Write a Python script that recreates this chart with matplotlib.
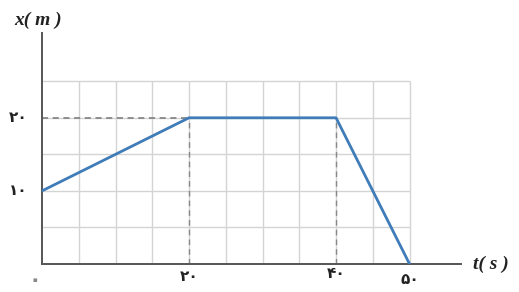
import numpy as np
import matplotlib.pyplot as plt

# position-time data
t = [0, 20, 40, 50]
x = [10, 20, 20, 0]

grid_t = [5, 10, 15, 20, 25, 30, 35, 40, 45, 50]
grid_x = [5, 10, 15, 20, 25]

# tick labels in Persian digits
xtick_pos = [20, 40, 50]
xtick_lbl = ["۲۰", "۴۰", "۵۰"]
xtick_off = [-1.7, -1.3, -2.1]
ytick_pos = [10, 20]
ytick_lbl = ["۱۰", "۲۰"]

fig = plt.figure(figsize=(5.19, 2.92), dpi=100)
W, H = 519, 292
x0, x1 = 42, 461
y0, y1 = 264, 33
ax = fig.add_axes([x0 / W, 1 - y0 / H, (x1 - x0) / W, (y0 - y1) / H])
ax.set_xlim(0, 57)
ax.set_ylim(0, 31.6)

# light grid
ax.vlines(grid_t, 0, 25, color="#d4d4d4", lw=1.0, zorder=1)
ax.hlines(grid_x, 0, 50, color="#d4d4d4", lw=1.0, zorder=1)

# dashed guide lines
ax.hlines(20, 0, 20, color="#777777", lw=1.1, linestyles=(0, (4, 3)), zorder=2)
ax.vlines([20, 40], 0, 20, color="#888888", lw=1.0, linestyles=(0, (4, 3)), zorder=2)

ax.plot(t, x, color="#3f7cb8", lw=2.0, solid_joinstyle="round", zorder=3)

for s in ["top", "right"]:
    ax.spines[s].set_visible(False)
for s in ["left", "bottom"]:
    ax.spines[s].set_color("#555555")
    ax.spines[s].set_linewidth(1.4)
ax.set_xticks([])
ax.set_yticks([])
ax.patch.set_alpha(0)

fa = dict(family="DejaVu Sans", weight="bold", fontsize=11, color="#222222")
for p, l, o in zip(xtick_pos, xtick_lbl, xtick_off):
    ax.text(p, o, l, ha="center", va="center", clip_on=False, **fa)
ax.text(-0.95, -2.2, "۰", ha="center", va="center", family="DejaVu Sans",
        weight="bold", fontsize=15, color="#888888", clip_on=False)
for p, l in zip(ytick_pos, ytick_lbl):
    ax.text(-3.3, p, l, ha="center", va="center", clip_on=False, **fa)

lab = dict(family="Liberation Serif", style="italic", weight="bold", fontsize=14, color="#222222")
fig.text(14 / W, 1 - 20 / H, "x( m )", ha="left", va="center", **lab)
fig.text(473 / W, 1 - 264 / H, "t( s )", ha="left", va="center", **lab)

fig.savefig("out.png", dpi=100)
